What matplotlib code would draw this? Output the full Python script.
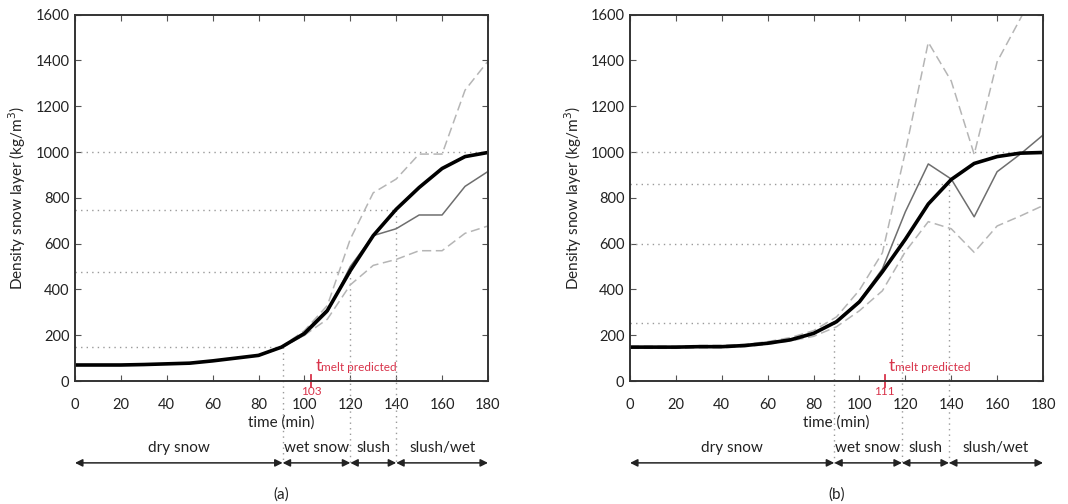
import matplotlib
matplotlib.use("Agg")
import matplotlib.pyplot as plt
from matplotlib.transforms import blended_transform_factory

plt.rcParams['font.family'] = ['Lato', 'DejaVu Sans']

time = [0, 10, 20, 30, 40, 50, 60, 70, 80, 90, 100, 110, 120, 130, 140, 150, 160, 170, 180]

# panel (a)
a_model = [70, 70, 70, 72, 75, 78, 88, 100, 112, 148, 208, 308, 482, 635, 750, 845, 928, 980, 998]
a_meas = [70, 70, 70, 72, 75, 78, 88, 100, 112, 148, 200, 300, 500, 635, 665, 725, 725, 850, 915]
a_upper = [70, 70, 70, 72, 75, 78, 88, 100, 112, 150, 220, 330, 620, 822, 882, 991, 991, 1270, 1397]
a_lower = [70, 70, 70, 72, 75, 78, 88, 100, 110, 145, 200, 270, 420, 505, 531, 569, 569, 645, 677]
a_bounds = [90.5, 120, 140]
a_levels = [147, 476, 748]
a_tmelt = 103

# panel (b)
b_model = [148, 148, 148, 150, 150, 155, 165, 180, 208, 259, 346, 477, 619, 773, 880, 950, 980, 995, 998]
b_meas = [148, 148, 148, 150, 150, 155, 165, 182, 210, 262, 350, 490, 739, 948, 882, 717, 914, 990, 1074]
b_upper = [152, 152, 152, 155, 156, 160, 172, 190, 220, 280, 397, 560, 1001, 1479, 1310, 990, 1394, 1580, 1770]
b_lower = [143, 143, 143, 145, 145, 150, 160, 175, 195, 237, 307, 394, 565, 696, 665, 562, 677, 720, 766]
b_bounds = [89, 118.5, 139]
b_levels = [255, 600, 862]
b_tmelt = 111

phase_names = ["dry snow", "wet snow", "slush", "slush/wet"]
xticks = list(range(0, 181, 20))
yticks = list(range(0, 1601, 200))

fig = plt.figure(figsize=(10.68, 5.04), dpi=100)
axA = fig.add_axes([0.0702, 0.244, 0.3867, 0.727])
axB = fig.add_axes([0.5899, 0.244, 0.3867, 0.727])

red = '#d8334a'
dot_col = '#9a9a9a'
txt_col = '#222222'

def panel(ax, model, meas, upper, lower, bounds, levels, tmelt, label):
    ax.set_xlim(0, 180)
    ax.set_ylim(0, 1600)
    # horizontal dotted reference lines
    ax.plot([0, 180], [1000, 1000], ls=(0, (1, 3)), color=dot_col, lw=1)
    for b, lv in zip(bounds, levels):
        ax.plot([0, b], [lv, lv], ls=(0, (1, 3)), color=dot_col, lw=1)
    # vertical dotted lines (through the phase axis)
    for b, lv in zip(bounds, levels):
        ax.plot([b, b], [lv, -357], ls=(0, (1, 3)), color=dot_col, lw=1, clip_on=False)
    ax.plot(time, upper, ls=(0, (6, 3)), color='#b5b5b5', lw=1.1)
    ax.plot(time, lower, ls=(0, (6, 3)), color='#b5b5b5', lw=1.1)
    ax.plot(time, meas, color='#6e6e6e', lw=1.1)
    ax.plot(time, model, color='black', lw=2.6)

    ax.set_xticks(xticks)
    ax.set_yticks(yticks)
    ax.tick_params(direction='in', top=True, right=True, length=4, width=0.8,
                   labelsize=10.5, colors='#555555', labelcolor=txt_col)
    ax.tick_params(axis='x', pad=12)
    ax.tick_params(axis='y', pad=4)
    for s in ax.spines.values():
        s.set_linewidth(1.4)
        s.set_color('#333333')
    ax.set_ylabel('Density snow layer (kg/m$^3$)', fontsize=11, color=txt_col, labelpad=5)

    tr = blended_transform_factory(ax.transData, ax.transAxes)
    ax.text(90, -0.114, 'time (min)', transform=tr, ha='center', va='center',
            fontsize=11, color=txt_col)
    # red tmelt marker
    ax.plot([tmelt, tmelt], [-28, 28], color=red, lw=1.3, clip_on=False)
    ax.text(tmelt, -0.029, str(tmelt), transform=tr, ha='center', va='center',
            fontsize=8.5, color=red)
    ax.text(tmelt + 1.5, 0.028, r'$\mathregular{t}$', transform=tr, ha='left',
            va='baseline', fontsize=12.5, color=red)
    ax.text(tmelt + 4.3, 0.028, 'melt predicted', transform=tr, ha='left',
            va='baseline', fontsize=8.5, color=red)

    # phase arrows
    edges = [0] + list(bounds) + [180]
    for i, name in enumerate(phase_names):
        x0, x1 = edges[i], edges[i + 1]
        ax.annotate('', xy=(x1, -0.2234), xytext=(x0, -0.2234), xycoords=tr,
                    textcoords=tr,
                    arrowprops=dict(arrowstyle='<|-|>', color='#222222', lw=1.1,
                                    mutation_scale=11, shrinkA=0, shrinkB=0))
        ax.text((x0 + x1) / 2, -0.183, name, transform=tr, ha='center',
                va='center', fontsize=11, color=txt_col)
    ax.text(90, -0.31, label, transform=tr, ha='center', va='center',
            fontsize=11, color=txt_col)

panel(axA, a_model, a_meas, a_upper, a_lower, a_bounds, a_levels, a_tmelt, '(a)')
panel(axB, b_model, b_meas, b_upper, b_lower, b_bounds, b_levels, b_tmelt, '(b)')

fig.savefig('out.png', dpi=100)
